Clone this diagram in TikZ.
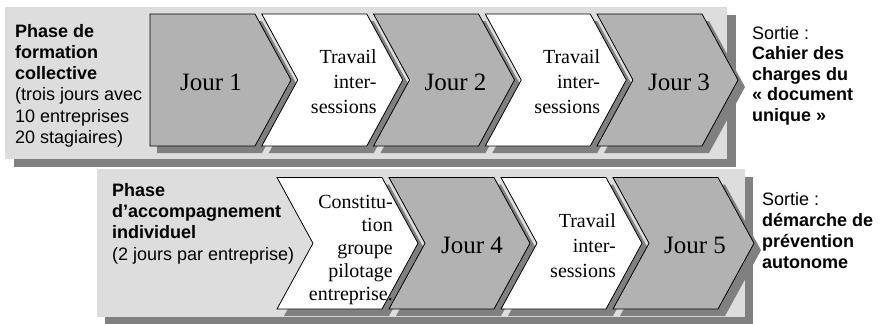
\documentclass[tikz,border=0pt]{standalone}
\usepackage{fontspec}
\setmainfont{Liberation Serif}
\newfontfamily\sidefont{Liberation Sans}
\definecolor{panelgray}{HTML}{DDDDDD}
\definecolor{shadowgray}{HTML}{808080}
\definecolor{daygray}{HTML}{B2B2B2}

% chevron: #1 style, #2 left x, #3 top y, #4 bottom y, #5 notch depth (0 = flat)
\newcommand\drawchev[5]{%
  \pgfmathsetmacro\chevmid{(#3+#4)/2}%
  \path[#1] (#2,#3) -- (#2+105,#3) -- (#2+141,\chevmid) -- (#2+105,#4)
    -- (#2,#4) -- (#2+#5,\chevmid) -- cycle;}

\begin{document}
\begin{tikzpicture}[x=1pt,y=-1pt,
  panel/.style={fill=panelgray},
  panelshadow/.style={fill=shadowgray},
  chevshadow/.style={fill=shadowgray, shift={(7,7)}},
  daybox/.style={fill=daygray, draw=black, line width=0.8pt},
  workbox/.style={fill=white, draw=black, line width=0.8pt},
  daylabel/.style={font=\fontsize{25}{30}\selectfont, anchor=base, inner sep=0pt},
  worklabel/.style={font=\fontsize{20}{25}\selectfont, align=right, anchor=east, inner sep=0pt},
  sidetext/.style={font=\sidefont\fontsize{18}{21.3}\selectfont, align=left, anchor=base west, inner sep=0pt},
]
\useasboundingbox (0,0) rectangle (881,324);

% background panels with their drop shadows
\fill[panelshadow] (14,15) rectangle (736,167);
\fill[panel] (5,7) rectangle (727,159);
\fill[panelshadow] (105,177) rectangle (753,325);
\fill[panel] (97,169) rectangle (745,317);

% collective phase: shadows, then chevrons
\drawchev{chevshadow}{150}{14}{146}{0}
\foreach \x in {261.75,373.5,485.25,597} {\drawchev{chevshadow}{\x}{14}{146}{36}}
\drawchev{daybox}{150}{14}{146}{0}
\drawchev{workbox}{261.75}{14}{146}{36}
\drawchev{daybox}{373.5}{14}{146}{36}
\drawchev{workbox}{485.25}{14}{146}{36}
\drawchev{daybox}{597}{14}{146}{36}

% individual phase: shadows, then chevrons
\foreach \x in {277,389,501,613} {\drawchev{chevshadow}{\x}{177.5}{309}{36}}
\drawchev{workbox}{277}{177.5}{309}{36}
\drawchev{daybox}{389}{177.5}{309}{36}
\drawchev{workbox}{501}{177.5}{309}{36}
\drawchev{daybox}{613}{177.5}{309}{36}

% chevron labels
\node[daylabel] (j1) at (211,90) {Jour 1};
\node[worklabel] (w1) at (376.75,82) {Travail\\inter-\\sessions};
\node[daylabel] (j2) at (455.5,90) {Jour 2};
\node[worklabel] (w2) at (600.25,82) {Travail\\inter-\\sessions};
\node[daylabel] (j3) at (679,90) {Jour 3};

\node[worklabel, font=\fontsize{20}{23}\selectfont] (cg) at (393,250) {Constitu-\\tion\\groupe\\pilotage\\entreprise.};
\node[daylabel] (j4) at (472,253) {Jour 4};
\node[worklabel] (w3) at (616,246) {Travail\\inter-\\sessions};
\node[daylabel] (j5) at (695,253) {Jour 5};

% side texts (anchored on the baseline of their last line)
\node[sidetext] (p1) at (15,143.5) {\textbf{Phase de}\\\textbf{formation}\\\textbf{collective}\\(trois jours avec\\10 entreprises\\20 stagiaires)};
\node[sidetext, font=\sidefont\fontsize{18}{20.6}\selectfont] (s1) at (752,121.4) {Sortie :\\\textbf{Cahier des}\\\textbf{charges du}\\\textbf{« document}\\\textbf{unique »}};
\node[sidetext] (p2) at (112,260) {\textbf{Phase}\\\textbf{d’accompagnement}\\\textbf{individuel}\\(2 jours par entreprise)};
\node[sidetext, font=\sidefont\fontsize{18}{21}\selectfont] (s2) at (762,268) {Sortie :\\\textbf{démarche de}\\\textbf{prévention}\\\textbf{autonome}};
\end{tikzpicture}
\end{document}
